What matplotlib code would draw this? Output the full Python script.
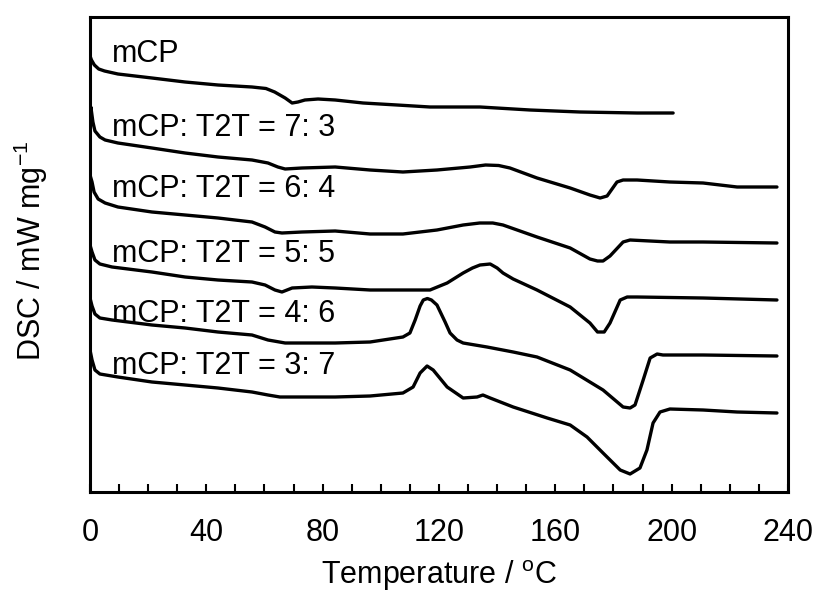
import matplotlib
matplotlib.use("Agg")
import matplotlib.pyplot as plt
from matplotlib.ticker import MultipleLocator

plt.rcParams['font.family'] = ['Liberation Sans', 'DejaVu Sans']
plt.rcParams['mathtext.fontset'] = 'custom'
plt.rcParams['mathtext.rm'] = 'Liberation Sans'

# DSC traces (temperature in degC, heat flow in stacked arbitrary units)
t_mcp = [0, 0.5, 1.5, 3.0, 5.0, 9.6, 21.3, 32.7, 44.0, 55.7, 60.5, 63.5, 67.1, 69.5, 71.5,
         73.9, 78.4, 84.3, 93.9, 105.6, 116.9, 134.1, 151.3, 168.5, 188.1, 200.5]
y_mcp = [4.36, 4.32, 4.27, 4.23, 4.21, 4.18, 4.14, 4.10, 4.07, 4.05, 4.035, 4.00, 3.94, 3.89, 3.90,
         3.92, 3.93, 3.92, 3.89, 3.87, 3.85, 3.85, 3.82, 3.80, 3.79, 3.79]

t_73 = [0, 0.3, 1.0, 1.7, 3.4, 5.2, 9.6, 21.3, 32.7, 44.0, 55.7, 61.2, 64.6, 67.1, 72.9,
        84.3, 96.3, 107.6, 119.3, 130.7, 136.0, 140.5, 144.4, 153.7, 165.1, 171.9, 175.4, 177.8,
        181.2, 183.3, 188.1, 199.4, 210.8, 222.5, 236.2]
y_73 = [3.49, 3.85, 3.70, 3.61, 3.55, 3.52, 3.49, 3.44, 3.39, 3.35, 3.32, 3.29, 3.25, 3.23, 3.24,
        3.25, 3.22, 3.20, 3.22, 3.25, 3.27, 3.265, 3.24, 3.14, 3.04, 2.97, 2.94, 2.96,
        3.10, 3.12, 3.12, 3.10, 3.09, 3.05, 3.05]

t_64 = [0, 0.7, 1.4, 2.8, 5.2, 9.6, 21.3, 32.7, 44.0, 55.7, 60.2, 63.6, 66.0, 72.9, 84.3,
        96.3, 107.6, 119.3, 128.3, 134.0, 138.5, 142.0, 153.7, 165.1, 171.9, 174.5, 176.4, 178.8,
        183.3, 185.7, 199.4, 210.8, 236.2]
y_64 = [3.17, 3.10, 3.00, 2.93, 2.89, 2.85, 2.80, 2.77, 2.74, 2.70, 2.65, 2.60, 2.59, 2.60, 2.61,
        2.58, 2.58, 2.62, 2.67, 2.69, 2.69, 2.67, 2.55, 2.44, 2.33, 2.31, 2.31, 2.36,
        2.50, 2.52, 2.50, 2.50, 2.49]

t_55 = [0, 0.7, 1.7, 3.4, 7.6, 21.3, 32.7, 44.0, 55.7, 60.2, 63.6, 66.0, 69.5, 76.3, 84.3,
        96.3, 116.9, 122.8, 128.3, 131.5, 134.1, 137.6, 140.0, 142.0, 145.5, 153.7, 165.1, 171.9,
        174.5, 176.8, 178.8, 182.3, 184.7, 188.1, 210.8, 236.2]
y_55 = [2.47, 2.40, 2.32, 2.28, 2.25, 2.20, 2.15, 2.12, 2.10, 2.07, 2.02, 2.00, 2.04, 2.05, 2.04,
        2.02, 2.02, 2.09, 2.19, 2.24, 2.27, 2.28, 2.24, 2.19, 2.13, 2.02, 1.85, 1.69,
        1.60, 1.60, 1.69, 1.92, 1.95, 1.95, 1.94, 1.92]

t_46 = [0, 0.7, 1.7, 3.4, 7.6, 21.3, 32.7, 44.0, 55.7, 61.2, 67.1, 84.3, 96.3, 107.6, 110.0,
        111.8, 113.5, 114.6, 116.0, 117.4, 119.3, 122.1, 123.8, 126.2, 128.3, 136.5, 145.5, 153.7,
        165.1, 176.4, 183.3, 185.7, 187.4, 190.2, 192.6, 195.0, 197.0, 210.8, 236.2]
y_46 = [1.94, 1.86, 1.78, 1.74, 1.72, 1.67, 1.64, 1.60, 1.57, 1.52, 1.49, 1.49, 1.50, 1.55, 1.59,
        1.72, 1.86, 1.92, 1.935, 1.92, 1.87, 1.70, 1.59, 1.52, 1.49, 1.45, 1.40, 1.35,
        1.22, 1.02, 0.85, 0.84, 0.87, 1.12, 1.34, 1.38, 1.37, 1.37, 1.36]

t_37 = [0, 0.7, 1.7, 3.4, 9.6, 21.3, 32.7, 44.0, 55.7, 61.2, 65.3, 84.3, 96.3, 107.6, 111.1,
        113.5, 115.9, 118.0, 122.8, 128.3, 133.1, 135.1, 137.6, 145.5, 157.2, 165.1, 170.9,
        176.4, 182.3, 185.7, 189.1, 191.5, 193.6, 196.0, 199.4, 210.8, 222.5, 236.2]
y_37 = [1.42, 1.32, 1.22, 1.18, 1.15, 1.10, 1.07, 1.04, 1.00, 0.97, 0.95, 0.95, 0.96, 0.99, 1.05,
        1.19, 1.26, 1.22, 1.05, 0.94, 0.95, 0.97, 0.94, 0.85, 0.74, 0.67, 0.55,
        0.39, 0.22, 0.18, 0.24, 0.42, 0.69, 0.80, 0.83, 0.82, 0.80, 0.79]

labels = ['mCP', 'mCP: T2T = 7: 3', 'mCP: T2T = 6: 4', 'mCP: T2T = 5: 5',
          'mCP: T2T = 4: 6', 'mCP: T2T = 3: 7']
label_y = [4.30, 3.56, 2.95, 2.30, 1.70, 1.18]
label_x = 7.6

fig = plt.figure(figsize=(8.2, 5.94), dpi=100)
ax = fig.add_axes([90/820, 1-492/594, 698/820, 475/594])

curves = [(t_mcp, y_mcp), (t_73, y_73), (t_64, y_64), (t_55, y_55), (t_46, y_46), (t_37, y_37)]
for t, y in curves:
    ax.plot(t, y, color='black', lw=2.4, solid_joinstyle='round', solid_capstyle='round')

for lab, ly in zip(labels, label_y):
    ax.text(label_x, ly, lab, fontsize=22, ha='left', va='baseline')

ax.set_xlim(0, 240)
ax.set_ylim(0, 4.75)
ax.xaxis.set_major_locator(MultipleLocator(40))
ax.xaxis.set_minor_locator(MultipleLocator(10))
ax.tick_params(axis='x', which='both', direction='in', length=6, width=1.5,
               labelsize=22, pad=19, top=False)
ax.tick_params(axis='y', left=False, labelleft=False)
for s in ax.spines.values():
    s.set_linewidth(2.2)

fig.text(0.535, 1-576/594, 'Temperature / $^{\\rm o}$C', fontsize=22, ha='center', va='center')
fig.text(31/820, 1-251/594, 'DSC / mW mg$^{-1}$', fontsize=22, rotation=90,
         ha='center', va='center')

fig.savefig('out.png', dpi=100)
